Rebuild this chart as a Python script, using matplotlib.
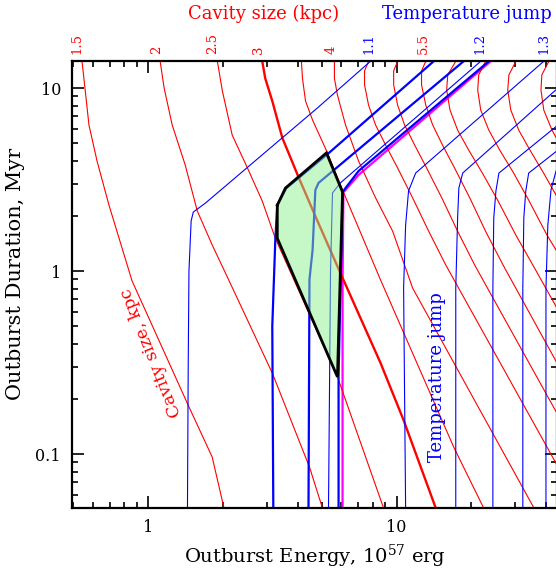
import matplotlib
matplotlib.use('Agg')
import matplotlib.pyplot as plt
import matplotlib.transforms as mtransforms
from matplotlib.ticker import LogLocator, NullFormatter

plt.rcParams['font.family'] = ['DejaVu Serif']
plt.rcParams['mathtext.fontset'] = 'dejavuserif'

# Outburst energy (1e57 erg) and duration (Myr)

# Cavity size curves, kpc
cavity_sizes = [1.5, 2, 2.5, 3, 3.5, 4, 4.5, 5, 5.5, 6, 6.5, 7, 7.5]
cavity_E = [
    [0.542, 0.557, 0.578, 0.623, 0.696, 0.862, 1.46, 1.81, 2.02],
    [1.118, 1.16, 1.25, 1.41, 1.577, 1.81, 2.12, 3.16, 4.46, 5.03],
    [1.90, 1.99, 2.18, 2.51, 2.88, 3.25, 5.78, 8.86],
    [2.88, 2.96, 3.16, 3.47, 4.03, 4.80, 5.94, 8.62, 10.67, 14.37],
    [4.14, 4.18, 4.30, 4.59, 5.27, 6.06, 8.62, 16.98, 22.4],
    [5.62, 5.62, 5.78, 6.23, 7.03, 8.23, 9.64, 11.6, 35.7],
    [7.71, 7.43, 7.43, 7.71, 8.23, 9.03, 10.09, 11.6, 13.46, 15.76, 45.8],
    [10.09, 9.73, 9.73, 10.09, 10.77, 11.82, 13.2, 15.2, 17.6, 20.6, 45.8],
    [13.1, 12.6, 12.6, 13.1, 13.97, 15.3, 17.1, 19.7, 22.8, 26.8, 45.8],
    [17.3, 16.06, 15.9, 16.4, 17.6, 19.5, 22.0, 25.5, 30.2, 36.3, 45.8],
    [22.8, 21.4, 21.2, 21.8, 23.5, 26.0, 29.4, 34.0, 40.3, 45.8],
    [30.2, 28.3, 28.0, 28.8, 31.0, 34.4, 38.8, 45.0],
    [41.0, 38.4, 38.1, 39.1, 42.2, 46.7],
]
cavity_t = [
    [14.0, 10.0, 6.28, 3.99, 2.29, 0.882, 0.181, 0.0964, 0.0507],
    [14.0, 10.0, 6.28, 3.80, 2.13, 1.39, 0.882, 0.277, 0.0849, 0.0507],
    [14.0, 9.63, 5.53, 3.66, 2.41, 1.51, 0.264, 0.0507],
    [14.0, 11.3, 8.49, 5.33, 3.26, 1.88, 0.975, 0.314, 0.153, 0.0507],
    [14.0, 11.3, 8.49, 6.68, 4.42, 2.77, 0.893, 0.109, 0.0507],
    [14.0, 11.3, 9.15, 6.28, 3.99, 2.51, 1.65, 0.807, 0.0507],
    [14.0, 12.4, 10.4, 8.07, 6.28, 4.88, 3.66, 2.51, 1.65, 1.08, 0.0798],
    [14.0, 12.4, 10.4, 8.07, 6.28, 4.88, 3.66, 2.51, 1.65, 1.08, 0.153],
    [14.0, 12.4, 10.4, 8.07, 6.28, 4.88, 3.66, 2.51, 1.65, 1.08, 0.288],
    [14.0, 11.8, 9.75, 7.58, 5.89, 4.58, 3.48, 2.44, 1.57, 1.01, 0.575],
    [14.0, 11.8, 9.75, 7.58, 5.89, 4.58, 3.48, 2.44, 1.57, 1.18],
    [14.0, 11.8, 9.75, 7.58, 5.89, 4.58, 3.48, 2.44],
    [14.0, 11.8, 9.75, 7.58, 5.89, 4.58],
]
thick_cavity = 3

# Temperature jump curves (thin blue)
tjump_values = [1.1, 1.2, 1.3, 1.4, 1.5, 1.6, 1.7]
tjump_E = [
    [1.44, 1.45, 1.46, 1.49, 1.52, 1.70, 4.80, 7.85],
    [5.32, 5.42, 5.52, 5.94, 21.8],
    [10.87, 10.67, 10.87, 11.17, 11.93, 39.1],
    [17.3, 17.3, 17.6, 17.8, 18.45, 44.6],
    [24.4, 24.4, 24.6, 25.1, 25.8, 44.6],
    [32.2, 32.2, 32.5, 33.1, 34.0, 44.6],
    [39.9, 39.9, 40.6, 41.8, 43.8, 45.8],
]
tjump_t = [
    [0.0507, 0.30, 1.0, 1.88, 2.1, 2.35, 7.78, 14.0],
    [0.0507, 1.0, 2.67, 3.03, 14.0],
    [0.0507, 0.807, 1.78, 2.74, 3.43, 14.0],
    [0.0507, 0.807, 1.95, 2.84, 3.43, 10.0],
    [0.0507, 0.807, 1.95, 2.74, 3.43, 6.28],
    [0.0507, 0.807, 1.95, 2.74, 3.43, 4.58],
    [0.0507, 0.807, 1.78, 2.77, 3.52, 3.7],
]

# Thick blue bounds and the magenta curve
bound_E = [
    [3.19, 3.16, 3.25, 3.31, 3.60, 5.22, 14.1],
    [4.42, 4.46, 4.59, 4.71, 4.85, 18.6],
    [5.84, 5.84, 6.06, 6.23, 7.03, 23.5],
]
bound_t = [
    [0.0507, 0.5, 1.48, 2.29, 2.84, 4.30, 14.0],
    [0.0507, 0.9, 1.3, 2.77, 3.03, 14.0],
    [0.0507, 0.264, 2.70, 2.84, 3.52, 14.0],
]
magenta_E = [6.06, 6.06, 6.11, 6.23, 7.03, 23.9]
magenta_t = [0.0507, 0.88, 2.70, 2.77, 3.35, 14.0]

# Allowed region
region_E = [3.31, 3.57, 5.22, 6.06, 5.78, 3.31]
region_t = [2.29, 2.84, 4.42, 2.70, 0.264, 1.51]

# Labels along the top edge
top_red_labels = ['1.5', '2', '2.5', '3', '4', '5.5']
top_red_E = [0.517, 1.087, 1.81, 2.78, 5.47, 12.85]
top_blue_labels = ['1.1', '1.2', '1.3']
top_blue_E = [7.71, 21.6, 39.2]

fig = plt.figure(figsize=(5.56, 5.69), dpi=100)
ax = fig.add_axes([72 / 556, 1 - 508 / 569, 485 / 556, 447 / 569])
ax.set_xscale('log')
ax.set_yscale('log')
ax.set_xlim(0.494, 44.2)
ax.set_ylim(0.0507, 14.05)

for size, E, t in zip(cavity_sizes, cavity_E, cavity_t):
    lw = 1.7 if size == thick_cavity else 0.8
    ax.plot(E, t, color='red', lw=lw)

for E, t in zip(tjump_E, tjump_t):
    ax.plot(E, t, color='blue', lw=0.8)

for E, t in zip(bound_E, bound_t):
    ax.plot(E, t, color='blue', lw=1.6)
ax.plot(magenta_E, magenta_t, color='magenta', lw=1.6, zorder=1.9)

ax.fill(region_E, region_t, facecolor='#8ef08e', alpha=0.5, edgecolor='none', zorder=3)
ax.plot(region_E + region_E[:1], region_t + region_t[:1], color='black', lw=2.0, zorder=4,
        solid_joinstyle='miter')

ax.text(1.03, 0.36, 'Cavity size, kpc', color='red', fontsize=12.5, rotation=112,
        ha='center', va='center', rotation_mode='anchor')
ax.text(14.6, 0.264, 'Temperature jump', color='blue', fontsize=13, rotation=90,
        ha='center', va='center')

trans = mtransforms.blended_transform_factory(ax.transData, ax.transAxes)
for lab, e in zip(top_red_labels, top_red_E):
    ax.text(e, 1.015, lab, color='red', fontsize=9.5, rotation=90, ha='center', va='bottom',
            transform=trans)
for lab, e in zip(top_blue_labels, top_blue_E):
    ax.text(e, 1.015, lab, color='blue', fontsize=9.5, rotation=90, ha='center', va='bottom',
            transform=trans)

fig.text(264 / 556, 1 - 14 / 569, 'Cavity size (kpc)', color='red', fontsize=13,
         ha='center', va='center')
fig.text(467 / 556, 1 - 14 / 569, 'Temperature jump', color='blue', fontsize=13,
         ha='center', va='center')

ax.set_xticks([1, 10])
ax.set_xticklabels(['1', '10'])
ax.set_yticks([0.1, 1, 10])
ax.set_yticklabels(['0.1', '1', '10'])
ax.xaxis.set_minor_locator(LogLocator(base=10, subs=range(2, 10)))
ax.yaxis.set_minor_locator(LogLocator(base=10, subs=range(2, 10)))
ax.xaxis.set_minor_formatter(NullFormatter())
ax.yaxis.set_minor_formatter(NullFormatter())
ax.tick_params(which='both', direction='in', top=True, right=True, width=1.2, labelsize=11.5)
ax.tick_params(which='major', length=8.5, pad=8)
ax.tick_params(which='minor', length=4.5)
for s in ax.spines.values():
    s.set_linewidth(1.6)

ax.set_xlabel(r'Outburst Energy, 10$^{57}$ erg', fontsize=14, labelpad=5)
fig.text(16 / 556, 1 - 274 / 569, 'Outburst Duration, Myr', fontsize=15, rotation=90,
         ha='center', va='center')

fig.savefig('out.png', dpi=100)
